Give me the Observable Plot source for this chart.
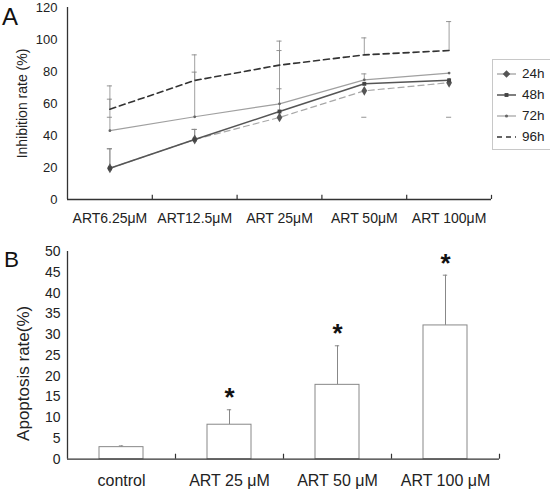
<!DOCTYPE html>
<html>
<head>
<meta charset="utf-8">
<script src="https://cdn.jsdelivr.net/npm/d3@7"></script>
<script src="https://cdn.jsdelivr.net/npm/@observablehq/plot@0.6"></script>
<style>
  body { margin: 0; background: #fff; font-family: "Liberation Sans", Arial, sans-serif; color: #222; }
  #page { position: relative; width: 550px; height: 492px; overflow: hidden; }
  #a, #b { position: absolute; left: 0; }
  #a { top: 0; }
  #b { top: 240px; }
  .tag { position: absolute; line-height: 1; color: #111; }
  #legend { position: absolute; left: 492px; top: 59px; width: 70px; height: 86px; border: 1px solid #c8c8c8; background: #fff; font-size: 13.5px; }
  #legend div { height: 21px; display: flex; align-items: center; }
  #legend svg { margin: 0 6px 0 4px; }
</style>
</head>
<body>
<div id="page">
  <div id="a"></div>
  <div id="b"></div>
  <div class="tag" style="left:2px;top:5px;font-size:24px">A</div>
  <div class="tag" style="left:4px;top:249px;font-size:22.5px">B</div>
  <div id="legend"></div>
</div>
<script>
// panel A: inhibition rate
const doses = ["ART6.25μM", "ART12.5μM", "ART 25μM", "ART 50μM", "ART 100μM"];
const hours = ["24h", "48h", "72h", "96h"];
const inhib24 = [19.5, 37.5, 51.3, 67.9, 73.0];
const inhib48 = [19.5, 37.5, 55.0, 72.3, 74.5];
const inhib72 = [43.0, 51.7, 59.8, 74.8, 79.0];
const inhib96 = [56.4, 74.4, 84.0, 90.4, 93.1];
const errHi24 = [31.7, 43.8, 69.2, null, null];
const errHi48 = [31.7, 43.8, null, null, null];
const errHi72 = [62.7, 79.6, 93.1, 78.5, null];
const errHi96 = [71.0, 90.4, 99.0, 101.0, 111.2];
const errLo96 = [51.4, null, null, 51.4, 51.4];

// panel B: apoptosis rate
const groups = ["control", "ART 25 μM", "ART 50 μM", "ART 100 μM"];
const apoptosis = [2.9, 8.3, 17.9, 32.2];
const apoptosisErr = [3.2, 11.9, 27.3, 44.3];
const significant = [false, true, true, true];

const inhib = [inhib24, inhib48, inhib72, inhib96];
const errHi = [errHi24, errHi48, errHi72, errHi96];

const styles = {
  "24h": { stroke: "#a8a8a8", dash: "6,4", width: 1.2, symbol: "diamond", r: 3, fill: "#555" },
  "48h": { stroke: "#555", dash: null, width: 1.5, symbol: "square", r: 2.2, fill: "#444" },
  "72h": { stroke: "#a0a0a0", dash: null, width: 1.2, symbol: "circle", r: 1.4, fill: "#666" },
  "96h": { stroke: "#333", dash: "6,4", width: 1.6, symbol: null }
};

const rows = hours.flatMap((h, k) => doses.map((d, i) => ({
  hour: h, i, dose: d, value: inhib[k][i], hi: errHi[k][i], lo: k === 3 ? errLo96[i] : null
})));
const hiRows = rows.filter(d => d.hi != null);
const loRows = rows.filter(d => d.lo != null);

const font = { fontFamily: "Liberation Sans, Arial, sans-serif", color: "#222", background: "transparent", overflow: "visible" };

const chartA = Plot.plot({
  width: 550,
  height: 240,
  marginLeft: 67,
  marginRight: 59,
  marginTop: 7,
  marginBottom: 41,
  style: font,
  x: { domain: [0, doses.length], axis: null },
  y: { domain: [0, 120], axis: null },
  marks: [
    Plot.axisY({ ticks: d3.range(0, 121, 20), tickSize: 0, tickPadding: 10, label: null, fontSize: 13 }),
    Plot.axisX({ ticks: doses.map((d, i) => i + 0.5), tickFormat: t => doses[Math.floor(t)], tickSize: 0, tickPadding: 14, label: null, fontSize: 14 }),
    Plot.ruleX(hiRows, { x: d => d.i + 0.5, y1: "value", y2: "hi", stroke: "#888", strokeWidth: 0.8 }),
    Plot.ruleY(hiRows, { y: "hi", x1: d => d.i + 0.47, x2: d => d.i + 0.53, stroke: "#888", strokeWidth: 0.9 }),
    Plot.ruleY(loRows, { y: "lo", x1: d => d.i + 0.47, x2: d => d.i + 0.53, stroke: "#888", strokeWidth: 0.9 }),
    ...hours.map(h => Plot.line(rows.filter(d => d.hour === h), {
      x: d => d.i + 0.5, y: "value",
      stroke: styles[h].stroke, strokeWidth: styles[h].width, strokeDasharray: styles[h].dash
    })),
    ...hours.filter(h => styles[h].symbol).map(h => Plot.dot(rows.filter(d => d.hour === h), {
      x: d => d.i + 0.5, y: "value", symbol: styles[h].symbol, r: styles[h].r, fill: styles[h].fill, stroke: null
    })),
    Plot.ruleY([0], { stroke: "#333", strokeWidth: 1.3 }),
    Plot.ruleX([0], { stroke: "#333", strokeWidth: 1.3 }),
    Plot.ruleX(d3.range(1, doses.length + 1), { y1: 0, y2: 2.6, stroke: "#333", strokeWidth: 1.2 }),
    Plot.text(["Inhibition rate (%)"], { frameAnchor: "left", textAnchor: "middle", rotate: -90, dx: -45, fontSize: 14, fill: "#222" })
  ]
});
document.getElementById("a").replaceChildren(chartA);

const bars = groups.map((g, i) => ({ group: g, i, value: apoptosis[i], err: apoptosisErr[i], sig: significant[i] }));

const chartB = Plot.plot({
  width: 550,
  height: 252,
  marginLeft: 67,
  marginRight: 51,
  marginTop: 11,
  marginBottom: 33.3,
  style: font,
  x: { domain: [0, groups.length], axis: null },
  y: { domain: [0, 50], axis: null },
  marks: [
    Plot.axisY({ ticks: d3.range(0, 51, 5), tickSize: 0, tickPadding: 7, label: null, fontSize: 14 }),
    Plot.axisX({ ticks: groups.map((g, i) => i + 0.5), tickFormat: t => groups[Math.floor(t)], tickSize: 0, tickPadding: 15, label: null, fontSize: 16 }),
    Plot.ruleX(bars, { x: d => d.i + 0.5, y1: "value", y2: "err", stroke: "#888", strokeWidth: 1 }),
    Plot.ruleY(bars, { y: "err", x1: d => d.i + 0.48, x2: d => d.i + 0.52, stroke: "#888", strokeWidth: 1 }),
    Plot.rectY(bars, { x1: d => d.i, x2: d => d.i + 1, y: "value", insetLeft: 32, insetRight: 32, fill: "white", stroke: "#888", strokeWidth: 1 }),
    Plot.ruleY([0], { stroke: "#333", strokeWidth: 1.3 }),
    Plot.ruleX([0], { stroke: "#333", strokeWidth: 1.3 }),
    Plot.ruleX(d3.range(1, groups.length + 1), { y1: 0, y2: 1.2, stroke: "#333", strokeWidth: 1.2 }),
    Plot.text(bars.filter(d => d.sig), { x: d => d.i + 0.5, y: "err", text: () => "*", dy: -12, fontSize: 26, fontWeight: "bold", fill: "#111" }),
    Plot.text(["Apoptosis rate(%)"], { frameAnchor: "left", textAnchor: "middle", rotate: -90, dx: -44, dy: 18, fontSize: 17, fill: "#222" })
  ]
});
document.getElementById("b").replaceChildren(chartB);

// legend for panel A
const legend = document.getElementById("legend");
legend.style.paddingTop = "3px";
for (const h of hours) {
  const s = styles[h];
  const row = document.createElement("div");
  const sample = d3.create("svg").attr("width", 19).attr("height", 10);
  sample.append("line").attr("x1", 0).attr("x2", 19).attr("y1", 5).attr("y2", 5)
    .attr("stroke", h === "24h" ? "#999" : s.stroke).attr("stroke-width", s.width)
    .attr("stroke-dasharray", h === "96h" ? "5,4" : null);
  if (s.symbol) {
    sample.append("path").attr("transform", "translate(9.5,5)")
      .attr("d", d3.symbol(s.symbol === "diamond" ? d3.symbolDiamond2 : s.symbol === "square" ? d3.symbolSquare2 : d3.symbolCircle, s.r * s.r * 4)())
      .attr("fill", s.fill);
  }
  row.append(sample.node());
  row.append(h);
  legend.append(row);
}
</script>
</body>
</html>
